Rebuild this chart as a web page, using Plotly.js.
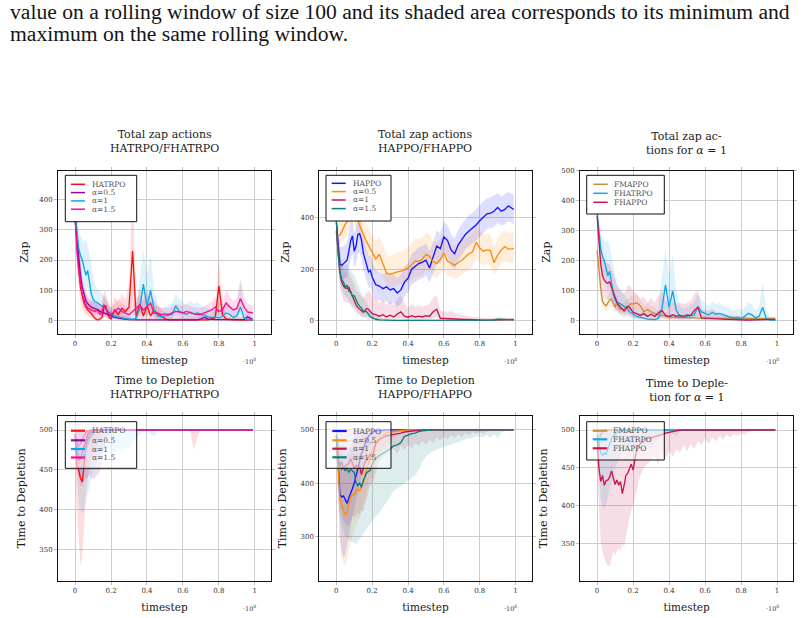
<!DOCTYPE html>
<html>
<head>
<meta charset="utf-8">
<script src="https://cdn.plot.ly/plotly-3.0.1.min.js"></script>
<style>
html,body{margin:0;padding:0;background:#fff;}
#fig{width:804px;height:618px;}
</style>
</head>
<body>
<div id="fig"></div>
<script>
// Training timesteps (units of 1e8)
const TS = [
0,0.01,0.02,0.03,0.04,0.05,0.06,0.07,0.08,0.09,
0.10,0.11,0.12,0.13,0.14,0.15,0.16,0.17,0.18,0.19,
0.20,0.22,0.24,0.26,0.28,0.30,0.32,0.34,0.36,0.38,
0.40,0.42,0.44,0.46,0.48,0.50,0.52,0.54,0.56,0.58,
0.60,0.62,0.64,0.66,0.68,0.70,0.72,0.74,0.76,0.78,
0.80,0.82,0.84,0.86,0.88,0.90,0.92,0.94,0.96,0.99];

const X_TICKS = [0,0.2,0.4,0.6,0.8,1];
const X_TICK_TEXT = ['0','0.2','0.4','0.6','0.8','1'];

// ---------- Total zap actions: HATRPO / FHATRPO ----------
const hatrpoZap = [
370,260,170,110,80,57,45,35,30,24,
15,8,3,2,5,10,40,50,25,10,
5,35,20,40,30,45,230,10,55,15,
50,15,35,20,15,5,2,2,1,1,
1,2,1,1,2,1,3,2,5,10,
115,20,5,3,2,2,1,1,1,1];
const hatrpoZapLo = [
330,200,110,60,40,25,20,15,10,8,
5,3,1,0,1,3,10,15,5,2,
1,8,3,10,5,10,60,1,15,2,
12,2,8,4,3,1,0,0,0,0,
0,0,0,0,0,0,0,0,1,2,
40,3,0,0,0,0,0,0,0,0];
const hatrpoZapHi = [
400,330,250,180,130,100,80,65,60,55,
45,35,30,25,40,60,90,100,70,50,
40,80,60,90,70,120,450,60,110,70,
100,60,70,50,40,20,12,10,10,10,
10,12,10,10,12,10,15,12,20,40,
210,60,20,12,10,10,10,10,10,10];

const fhatrpoA05Zap = [
330,270,200,150,110,85,65,55,48,44,
42,40,38,35,30,27,24,22,20,18,
15,10,8,5,4,3,2,2,2,2,
2,2,2,2,2,2,2,2,2,2,
2,2,2,2,2,5,10,5,3,3,
3,3,3,3,3,3,3,3,12,2];
const fhatrpoA05ZapLo = [
300,230,160,110,80,60,45,38,32,30,
28,26,24,22,18,15,12,10,8,6,
5,3,2,1,1,0,0,0,0,0,
0,0,0,0,0,0,0,0,0,0,
0,0,0,0,0,1,3,1,0,0,
0,0,0,0,0,0,0,0,3,0];
const fhatrpoA05ZapHi = [
360,310,250,190,150,120,95,80,70,65,
60,58,55,52,48,45,42,40,38,35,
30,25,20,15,12,10,8,8,8,8,
8,8,8,8,8,8,8,8,8,8,
8,8,8,8,10,15,25,15,10,8,
8,8,8,8,8,8,8,10,30,8];

const fhatrpoA1Zap = [
360,300,240,215,200,175,150,165,125,90,
70,62,60,55,52,48,45,40,30,25,
22,15,12,8,6,5,4,8,40,120,
45,100,35,15,12,15,18,20,48,30,
25,20,28,22,25,20,15,12,10,12,
8,15,25,20,10,15,45,8,3,2];
const fhatrpoA1ZapLo = [
320,240,180,150,140,120,100,110,80,55,
40,35,32,30,28,25,22,18,12,10,
8,5,3,2,1,1,1,2,10,40,
10,30,8,3,2,4,5,6,15,8,
6,5,8,6,8,5,4,3,2,3,
2,4,8,5,2,3,10,1,0,0];
const fhatrpoA1ZapHi = [
400,350,300,280,270,260,270,250,220,180,
150,120,110,100,95,90,80,70,60,50,
45,35,30,25,20,15,15,40,140,240,
150,220,100,50,40,45,50,60,90,70,
60,50,65,55,60,50,45,40,35,40,
35,45,60,55,35,50,130,40,15,10];

const fhatrpoA15Zap = [
350,230,170,120,85,68,50,42,37,35,
33,30,35,30,19,30,52,40,30,25,
19,30,41,30,25,19,30,41,52,35,
45,57,24,25,19,22,20,25,30,28,
25,30,25,22,20,20,25,30,35,45,
30,35,58,45,35,40,72,45,28,25];
const fhatrpoA15ZapLo = [
320,190,130,85,60,45,32,25,22,20,
18,16,18,15,8,14,25,20,14,12,
8,14,20,14,10,8,14,20,25,16,
20,28,10,10,8,9,8,10,14,12,
10,14,10,9,8,8,10,14,16,20,
12,15,28,20,14,16,30,18,10,10];
const fhatrpoA15ZapHi = [
380,290,230,170,130,105,85,75,68,65,
62,58,62,55,40,55,85,70,58,50,
40,55,70,55,48,40,55,70,85,62,
75,90,48,48,40,44,40,48,55,52,
48,55,48,45,42,42,48,55,62,80,
60,65,100,80,65,75,140,80,55,50];

// ---------- Total zap actions: HAPPO / FHAPPO ----------
const happoZap = [
385,300,220,215,222,228,235,270,310,330,
270,290,335,338,315,265,240,210,190,195,
170,140,135,125,132,120,125,108,120,150,
165,200,210,222,228,235,205,245,290,280,
325,312,275,260,295,315,335,348,360,372,
388,402,415,418,425,440,425,432,446,432];
const happoZapLo = [
360,250,160,150,160,165,170,200,240,260,
210,220,260,265,245,200,175,150,130,130,
110,85,80,72,75,65,70,55,65,95,
110,140,150,160,165,175,150,180,225,220,
260,250,215,200,235,255,275,290,300,312,
325,340,355,360,365,380,370,375,385,375];
const happoZapHi = [
400,360,290,285,290,295,305,340,380,400,
340,360,400,405,380,330,305,270,250,255,
230,195,190,180,190,175,180,165,180,210,
225,260,270,285,290,300,270,305,350,340,
385,372,335,320,355,375,395,410,420,432,
450,462,475,478,485,495,482,490,500,490];

const fhappoA05Zap = [
330,330,332,345,364,375,383,405,430,460,
440,410,385,370,355,335,320,305,292,280,
267,240,258,225,185,180,186,190,193,197,
204,218,232,230,240,258,250,230,222,238,
262,232,225,215,226,235,248,260,268,305,
282,270,275,272,225,255,275,288,278,280];
const fhappoA05ZapLo = [
300,300,300,300,310,320,330,345,370,390,
380,355,330,315,300,280,265,250,238,225,
210,185,200,170,135,130,135,140,142,145,
150,160,170,170,180,195,190,175,165,180,
200,175,170,160,170,180,190,200,210,240,
225,215,220,215,175,200,220,230,225,225];
const fhappoA05ZapHi = [
370,380,390,400,420,440,450,470,490,510,
500,480,460,440,420,400,385,370,355,345,
335,310,325,295,255,250,260,265,270,275,
285,300,320,315,325,345,335,310,300,315,
340,310,300,290,300,310,320,330,340,375,
350,335,340,335,290,320,340,350,340,345];

const fhappoA1Zap = [
350,250,190,150,135,128,125,130,112,100,
80,62,52,45,38,33,40,48,45,38,
28,24,18,24,15,22,15,26,35,18,
14,20,15,18,15,20,18,35,45,10,
9,8,8,7,6,6,5,5,4,4,
3,3,3,3,3,3,3,3,4,5];
const fhappoA1ZapLo = [
320,200,130,95,80,75,70,70,60,50,
40,30,25,20,15,12,15,20,18,14,
10,8,5,8,4,6,4,8,10,5,
4,6,4,5,4,5,5,10,15,2,
2,2,1,1,1,1,1,1,1,1,
0,0,0,0,0,0,0,0,1,1];
const fhappoA1ZapHi = [
380,320,260,220,200,195,190,190,175,160,
140,120,110,100,95,90,100,115,120,110,
100,90,70,80,60,75,60,85,100,70,
50,65,55,60,55,60,65,90,100,40,
35,35,40,30,25,25,20,18,15,15,
12,12,10,10,10,10,10,10,12,12];

const fhappoA15Zap = [
390,260,190,160,150,130,138,115,112,95,
98,80,67,57,50,38,35,35,25,15,
12,6,4,3,2,2,2,2,2,2,
2,2,2,2,2,2,2,2,2,2,
2,2,2,2,2,2,2,2,2,2,
2,2,2,3,3,6,5,4,4,4];
const fhappoA15ZapLo = [
360,220,150,120,105,90,95,75,70,55,
55,45,35,28,22,15,12,10,8,5,
3,1,0,0,0,0,0,0,0,0,
0,0,0,0,0,0,0,0,0,0,
0,0,0,0,0,0,0,0,0,0,
0,0,0,0,1,2,2,1,1,1];
const fhappoA15ZapHi = [
400,310,250,225,220,210,220,200,200,185,
180,160,140,120,105,90,80,70,55,40,
30,18,12,8,6,5,5,5,5,5,
5,5,5,5,5,5,5,5,5,5,
5,5,5,5,5,5,5,5,5,5,
5,5,5,6,7,12,10,8,8,8];

// ---------- Total zap actions: FMAPPO (alpha = 1 comparison) ----------
const fmappoZap = [
235,160,110,65,55,50,58,70,72,55,
45,62,45,38,38,40,45,48,52,58,
56,60,50,30,38,30,25,20,18,15,
13,12,12,12,12,11,10,10,9,9,
9,9,8,8,8,8,8,8,8,7,
7,7,7,7,7,7,7,7,7,7];
const fmappoZapLo = [
200,120,70,40,35,30,35,45,45,35,
28,38,28,22,22,25,28,30,32,36,
35,38,30,15,20,15,12,10,8,6,
5,5,5,5,5,4,4,4,3,3,
3,3,3,3,3,3,3,3,3,3,
3,3,3,3,3,3,3,3,3,3];
const fmappoZapHi = [
260,200,150,95,80,75,85,95,100,80,
68,88,68,58,58,62,68,72,78,85,
82,88,75,50,60,50,42,35,32,28,
25,22,22,22,22,20,18,18,16,16,
16,16,15,15,15,15,15,15,15,14,
14,14,14,14,14,14,14,14,14,14];

// ---------- Time to depletion (episode length is 500) ----------
const depletionCap = [
500,500,500,500,500,500,500,500,500,500,
500,500,500,500,500,500,500,500,500,500,
500,500,500,500,500,500,500,500,500,500,
500,500,500,500,500,500,500,500,500,500,
500,500,500,500,500,500,500,500,500,500,
500,500,500,500,500,500,500,500,500,500];

const hatrpoTtd = [
495,455,450,440,435,455,478,488,493,496,
498,499,500,500,500,500,500,500,500,500,
500,500,500,500,500,500,500,500,500,500,
500,500,500,500,500,500,500,500,500,500,
500,500,500,500,500,500,500,500,500,500,
500,500,500,500,500,500,500,500,500,500];
const hatrpoTtdLo = [
470,400,360,330,340,380,420,440,455,465,
470,475,480,485,490,495,498,500,500,500,
500,500,500,500,500,500,500,500,500,500,
500,500,500,500,500,500,500,500,500,500,
500,500,500,475,490,500,500,500,500,500,
500,500,500,500,500,500,500,500,500,500];

const fhatrpoA05Ttd = [
495,470,462,465,472,480,488,494,497,499,
500,500,500,500,500,500,500,500,500,500,
500,500,500,500,500,500,500,500,500,500,
500,500,500,500,500,500,500,500,500,500,
500,500,500,500,500,500,500,500,500,500,
500,500,500,500,500,500,500,500,500,500];
const fhatrpoA05TtdLo = [
490,460,440,430,430,435,440,440,445,440,
440,440,442,445,450,460,475,485,490,495,
500,500,500,500,500,500,500,500,500,500,
500,500,500,500,500,500,500,500,500,500,
500,500,500,500,500,500,500,500,500,500,
500,500,500,500,500,500,500,500,500,500];

const fhatrpoA1Ttd = [
495,480,470,466,470,468,475,482,488,492,
495,497,499,500,500,500,500,500,500,500,
500,500,500,500,500,500,500,500,500,500,
500,500,500,500,500,500,500,500,500,500,
500,500,500,500,500,500,500,500,500,500,
500,500,500,500,500,500,500,500,500,500];
const fhatrpoA1TtdLo = [
490,440,410,400,395,400,410,420,430,440,
450,455,460,465,470,475,478,480,478,476,
475,472,478,470,480,475,485,490,495,497,
498,495,492,498,500,500,500,500,500,500,
500,500,500,500,500,500,500,500,500,500,
500,500,500,500,500,500,500,500,500,500];

const fhatrpoA15Ttd = [
495,485,480,483,488,493,497,499,500,500,
500,500,500,500,500,500,500,500,500,500,
500,500,500,500,500,500,500,500,500,500,
500,500,500,500,500,500,500,500,500,500,
500,500,500,500,500,500,500,500,500,500,
500,500,500,500,500,500,500,500,500,500];
const fhatrpoA15TtdLo = [
490,455,440,445,455,465,475,485,490,495,
500,500,500,500,500,500,500,500,500,500,
500,500,500,500,500,500,500,500,500,500,
500,500,500,500,500,500,500,500,500,500,
500,500,500,500,500,500,500,500,500,500,
500,500,500,500,500,500,500,500,500,500];

const happoTtd = [
480,440,380,374,376,368,362,372,380,390,
400,415,428,440,455,465,475,482,488,492,
495,498,499,500,500,500,500,500,500,500,
500,500,500,500,500,500,500,500,500,500,
500,500,500,500,500,500,500,500,500,500,
500,500,500,500,500,500,500,500,500,500];
const happoTtdLo = [
470,380,300,270,260,265,280,300,320,340,
355,370,385,400,415,430,445,455,465,472,
478,485,490,495,498,500,500,500,500,500,
500,500,500,500,500,500,500,500,500,500,
500,500,500,500,500,500,500,500,500,500,
500,500,500,500,500,500,500,500,500,500];
const happoTtdHi = [
500,490,470,460,455,450,455,460,470,480,
490,495,500,500,500,500,500,500,500,500,
500,500,500,500,500,500,500,500,500,500,
500,500,500,500,500,500,500,500,500,500,
500,500,500,500,500,500,500,500,500,500,
500,500,500,500,500,500,500,500,500,500];

const fhappoA05Ttd = [
470,430,370,358,350,340,345,362,375,378,
378,386,390,385,392,400,415,428,440,452,
462,475,485,490,494,496,497,498,499,499,
500,500,500,500,500,500,500,500,500,500,
500,500,500,500,500,500,500,500,500,500,
500,500,500,500,500,500,500,500,500,500];
const fhappoA05TtdLo = [
460,360,290,260,250,245,255,270,290,300,
310,320,330,335,345,355,370,385,400,410,
420,440,455,465,475,480,485,490,493,496,
500,500,500,500,500,500,500,500,500,500,
500,500,500,500,500,500,500,500,500,500,
500,500,500,500,500,500,500,500,500,500];
const fhappoA05TtdHi = [
500,480,460,450,440,430,440,450,460,465,
470,475,480,485,488,492,495,497,500,500,
500,500,500,500,500,500,500,500,500,500,
500,500,500,500,500,500,500,500,500,500,
500,500,500,500,500,500,500,500,500,500,
500,500,500,500,500,500,500,500,500,500];

const fhappoA1Ttd = [
490,450,432,440,427,433,434,438,446,436,
428,434,427,432,416,427,440,443,450,455,
447,475,482,486,489,490,491,492,494,496,
497,498,499,500,500,500,500,500,500,500,
500,500,500,500,500,500,500,500,500,500,
500,500,500,500,500,500,500,500,500,500];
const fhappoA1TtdLo = [
480,400,350,340,330,325,320,320,330,340,
335,340,345,340,350,345,360,370,385,395,
400,420,440,450,455,460,465,455,470,462,
472,465,475,470,480,472,482,475,485,480,
488,482,490,485,492,487,494,490,495,492,
496,493,497,500,500,500,500,500,500,500];

const fhappoA15Ttd = [
490,430,432,426,429,423,429,420,426,423,
420,400,395,401,392,404,412,420,422,425,
436,446,452,456,460,464,470,472,476,488,
490,493,494,497,498,499,500,500,500,500,
500,500,500,500,500,500,500,500,500,500,
500,500,500,500,500,500,500,500,500,500];
const fhappoA15TtdLo = [
480,380,340,320,310,300,300,295,290,290,
288,285,290,295,300,305,310,315,320,325,
330,338,344,355,365,375,385,390,395,400,
405,410,415,425,440,450,455,460,463,466,
468,470,472,475,478,480,482,484,486,487,
488,486,490,485,492,484,495,498,500,500];
const fhappoA15TtdHi = [
500,480,470,470,470,468,470,465,468,465,
465,460,455,458,455,462,470,475,478,480,
485,490,495,498,500,500,500,500,500,500,
500,500,500,500,500,500,500,500,500,500,
500,500,500,500,500,500,500,500,500,500,
500,500,500,500,500,500,500,500,500,500];

const fmappoTtd = [
470,485,495,498,500,500,500,500,500,500,
500,500,500,500,500,500,500,500,500,500,
500,500,500,500,500,500,500,500,500,500,
500,500,500,500,500,500,500,500,500,500,
500,500,500,500,500,500,500,500,500,500,
500,500,500,500,500,500,500,500,500,500];
const fmappoTtdLo = [
450,470,485,492,496,498,500,500,500,500,
500,500,500,500,500,500,500,500,500,500,
500,500,500,500,500,500,500,500,500,500,
500,500,500,500,500,500,500,500,500,500,
500,500,500,500,500,500,500,500,500,500,
500,500,500,500,500,500,500,500,500,500];

// ---------- styling ----------
const C = {
  hatrpo: '#ff0d0d', a05p: '#8c0a9e', a1b: '#12a6e8', a15m: '#f5128a',
  happo: '#1414ff', a05o: '#ff8a0a', a1c: '#c8154c', a15t: '#0b7f7c',
  fmappo: '#c98a42'
};
const SERIF = 'DejaVu Serif, serif';
const W = 804, H = 618;
const fx = v => v / W;
const fy = v => 1 - v / H;

function rgba(hex, a) {
  const n = parseInt(hex.slice(1), 16);
  return 'rgba(' + (n >> 16 & 255) + ',' + (n >> 8 & 255) + ',' + (n & 255) + ',' + a + ')';
}

const COLS = [[58, 271], [319.3, 531.7], [580, 793.3]];
const ROWS = [[170.5, 333.8], [416, 580.7]];

const panels = [
  { row: 0, col: 0, yr: [-44, 496], yt: [0, 100, 200, 300, 400],
    title: 'Total zap actions<br>HATRPO/FHATRPO', tY: 141, ylab: 'Zap', ySo: 8,
    series: [
      { name: 'HATRPO', c: C.hatrpo, y: hatrpoZap, lo: hatrpoZapLo, hi: hatrpoZapHi },
      { name: 'α=0.5', c: C.a05p, y: fhatrpoA05Zap, lo: fhatrpoA05ZapLo, hi: fhatrpoA05ZapHi },
      { name: 'α=1', c: C.a1b, y: fhatrpoA1Zap, lo: fhatrpoA1ZapLo, hi: fhatrpoA1ZapHi },
      { name: 'α=1.5', c: C.a15m, y: fhatrpoA15Zap, lo: fhatrpoA15ZapLo, hi: fhatrpoA15ZapHi }],
    leg: { box: [65.3, 175.3, 136.7, 221.7], line: [71, 85], tx: 90, ys: [184.3, 192.6, 200.9, 209.2], w: 1.5, fill: '#ffffff' } },
  { row: 0, col: 1, yr: [-50.3, 583], yt: [0, 200, 400],
    title: 'Total zap actions<br>HAPPO/FHAPPO', tY: 141, ylab: 'Zap', ySo: 8,
    series: [
      { name: 'HAPPO', c: C.happo, y: happoZap, lo: happoZapLo, hi: happoZapHi },
      { name: 'α=0.5', c: C.a05o, y: fhappoA05Zap, lo: fhappoA05ZapLo, hi: fhappoA05ZapHi },
      { name: 'α=1', c: C.a1c, y: fhappoA1Zap, lo: fhappoA1ZapLo, hi: fhappoA1ZapHi },
      { name: 'α=1.5', c: C.a15t, y: fhappoA15Zap, lo: fhappoA15ZapLo, hi: fhappoA15ZapHi }],
    leg: { box: [326, 175.3, 391, 221], line: [331.7, 345.7], tx: 350.7, ys: [183.3, 191.6, 200, 208.6], w: 1.5, fill: '#ffffff' } },
  { row: 0, col: 2, yr: [-43, 500], yt: [0, 100, 200, 300, 400, 500],
    title: 'Total zap ac-<br>tions for <i>α</i> = 1', tY: 143.3, ylab: 'Zap', ySo: 8,
    series: [
      { name: 'FMAPPO', c: C.fmappo, y: fmappoZap, lo: fmappoZapLo, hi: fmappoZapHi },
      { name: 'FHATRPO', c: C.a1b, y: fhatrpoA1Zap, lo: fhatrpoA1ZapLo, hi: fhatrpoA1ZapHi },
      { name: 'FHAPPO', c: C.a1c, y: fhappoA1Zap, lo: fhappoA1ZapLo, hi: fhappoA1ZapHi }],
    leg: { box: [586.7, 175.3, 664.3, 214], line: [593.3, 607.7], tx: 611.7, ys: [184.3, 193.3, 202.3], w: 1.5, fill: '#ffffff' } },
  { row: 1, col: 0, yr: [311.6, 517.5], yt: [350, 400, 450, 500],
    title: 'Time to Depletion<br>HATRPO/FHATRPO', tY: 387, ylab: 'Time to Depletion', ySo: 11,
    series: [
      { name: 'HATRPO', c: C.hatrpo, y: hatrpoTtd, lo: hatrpoTtdLo, hi: depletionCap },
      { name: 'α=0.5', c: C.a05p, y: fhatrpoA05Ttd, lo: fhatrpoA05TtdLo, hi: depletionCap },
      { name: 'α=1', c: C.a1b, y: fhatrpoA1Ttd, lo: fhatrpoA1TtdLo, hi: depletionCap },
      { name: 'α=1.5', c: C.a15m, y: fhatrpoA15Ttd, lo: fhatrpoA15TtdLo, hi: depletionCap }],
    leg: { box: [65.3, 421.7, 136.7, 468.3], line: [71, 85], tx: 90, ys: [430.7, 440.3, 449, 457.5], w: 2.2, fill: 'rgba(255,255,255,0.55)' } },
  { row: 1, col: 1, yr: [217, 526], yt: [300, 400, 500],
    title: 'Time to Depletion<br>HAPPO/FHAPPO', tY: 387, ylab: 'Time to Depletion', ySo: 11,
    series: [
      { name: 'HAPPO', c: C.happo, y: happoTtd, lo: happoTtdLo, hi: happoTtdHi },
      { name: 'α=0.5', c: C.a05o, y: fhappoA05Ttd, lo: fhappoA05TtdLo, hi: fhappoA05TtdHi },
      { name: 'α=1', c: C.a1c, y: fhappoA1Ttd, lo: fhappoA1TtdLo, hi: depletionCap },
      { name: 'α=1.5', c: C.a15t, y: fhappoA15Ttd, lo: fhappoA15TtdLo, hi: fhappoA15TtdHi }],
    leg: { box: [326, 421.7, 391, 468.3], line: [332.3, 346.7], tx: 350.7, ys: [431, 440.3, 448.7, 457.3], w: 2.2, fill: 'rgba(255,255,255,0.55)' } },
  { row: 1, col: 2, yr: [301, 518.5], yt: [350, 400, 450, 500],
    title: 'Time to Deple-<br>tion for <i>α</i> = 1', tY: 390, ylab: 'Time to Depletion', ySo: 11,
    series: [
      { name: 'FMAPPO', c: C.fmappo, y: fmappoTtd, lo: fmappoTtdLo, hi: depletionCap },
      { name: 'FHATRPO', c: C.a1b, y: fhatrpoA1Ttd, lo: fhatrpoA1TtdLo, hi: depletionCap },
      { name: 'FHAPPO', c: C.a1c, y: fhappoA1Ttd, lo: fhappoA1TtdLo, hi: depletionCap }],
    leg: { box: [586.7, 421.7, 664.3, 460], line: [592.7, 607.3], tx: 611, ys: [430.7, 439.3, 448.3], w: 2.2, fill: 'rgba(255,255,255,0.55)' } }
];

const traces = [];
const layout = {
  width: W, height: H,
  margin: { l: 0, r: 0, t: 0, b: 0 },
  paper_bgcolor: '#ffffff', plot_bgcolor: '#ffffff',
  showlegend: false, hovermode: false,
  annotations: [], shapes: []
};

const TS_BACK = TS.slice().reverse();

panels.forEach((p, i) => {
  const k = i === 0 ? '' : String(i + 1);
  const xa = 'x' + k, ya = 'y' + k;
  const cx = COLS[p.col], ry = ROWS[p.row];

  const common = {
    showgrid: true, gridcolor: '#cdcdcd', gridwidth: 1, zeroline: false,
    showline: true, linecolor: '#111', linewidth: 1, mirror: 'ticks',
    ticks: 'outside', ticklen: 3, tickcolor: '#aaa', tickwidth: 0.8,
    tickfont: { family: SERIF, size: 7, color: '#333' }, fixedrange: true,
    tickmode: 'array'
  };
  layout['xaxis' + k] = Object.assign({}, common, {
    domain: [fx(cx[0]), fx(cx[1])], range: [-0.095, 1.09], anchor: ya,
    tickvals: X_TICKS, ticktext: X_TICK_TEXT,
    title: { text: 'timestep', standoff: 9, font: { family: SERIF, size: 10.5, color: '#1a1a1a' } }
  });
  layout['yaxis' + k] = Object.assign({}, common, {
    domain: [fy(ry[1]), fy(ry[0])], range: p.yr, anchor: xa,
    tickvals: p.yt, ticktext: p.yt.map(String),
    title: { text: p.ylab, standoff: p.ySo, font: { family: SERIF, size: 11, color: '#1a1a1a' } }
  });

  // shaded min/max bands
  p.series.forEach(s => {
    traces.push({
      type: 'scatter', mode: 'lines', xaxis: xa, yaxis: ya,
      x: TS.concat(TS_BACK), y: s.hi.concat(s.lo.slice().reverse()),
      fill: 'toself', fillcolor: rgba(s.c, 0.14),
      line: { width: 0, color: 'rgba(0,0,0,0)' }, hoverinfo: 'skip'
    });
  });
  // rolling means
  p.series.forEach(s => {
    traces.push({
      type: 'scatter', mode: 'lines', xaxis: xa, yaxis: ya, name: s.name,
      x: TS, y: s.y, line: { color: s.c, width: 1.35 }
    });
  });

  // panel title
  const midX = (cx[0] + cx[1]) / 2;
  layout.annotations.push({
    xref: 'paper', yref: 'paper', x: fx(midX), y: fy(p.tY),
    xanchor: 'center', yanchor: 'middle', showarrow: false, text: p.title,
    font: { family: SERIF, size: 11, color: '#1a1a1a' }
  });
  // exponent of the timestep axis
  layout.annotations.push({
    xref: 'paper', yref: 'paper', x: fx(cx[1] - 21), y: fy(ry[1] + 27.5),
    xanchor: 'center', yanchor: 'middle', showarrow: false,
    text: '·10<sup>8</sup>', font: { family: SERIF, size: 6.5, color: '#333' }
  });

  // legend box
  const L = p.leg;
  layout.shapes.push({
    type: 'rect', xref: 'paper', yref: 'paper', layer: 'above',
    x0: fx(L.box[0]), x1: fx(L.box[2]), y0: fy(L.box[3]), y1: fy(L.box[1]),
    line: { color: '#111', width: 1 }, fillcolor: L.fill
  });
  p.series.forEach((s, j) => {
    layout.shapes.push({
      type: 'line', xref: 'paper', yref: 'paper', layer: 'above',
      x0: fx(L.line[0]), x1: fx(L.line[1]), y0: fy(L.ys[j]), y1: fy(L.ys[j]),
      line: { color: s.c, width: L.w }
    });
    layout.annotations.push({
      xref: 'paper', yref: 'paper', x: fx(L.tx), y: fy(L.ys[j]),
      xanchor: 'left', yanchor: 'middle', showarrow: false, text: s.name,
      font: { family: SERIF, size: 7.5, color: '#555' }
    });
  });
});

// running text above the figure
layout.annotations.push({
  xref: 'paper', yref: 'paper', x: fx(8), y: fy(12.5), xanchor: 'left', yanchor: 'middle',
  showarrow: false, text: 'value on a rolling window of size 100 and its shaded area corresponds to its minimum and',
  font: { family: 'Liberation Serif, serif', size: 21.6, color: '#151515' }
});
layout.annotations.push({
  xref: 'paper', yref: 'paper', x: fx(8), y: fy(34.5), xanchor: 'left', yanchor: 'middle',
  showarrow: false, text: 'maximum on the same rolling window.',
  font: { family: 'Liberation Serif, serif', size: 21.6, color: '#151515' }
});

Plotly.newPlot('fig', traces, layout, { staticPlot: true, displayModeBar: false });
</script>
</body>
</html>
